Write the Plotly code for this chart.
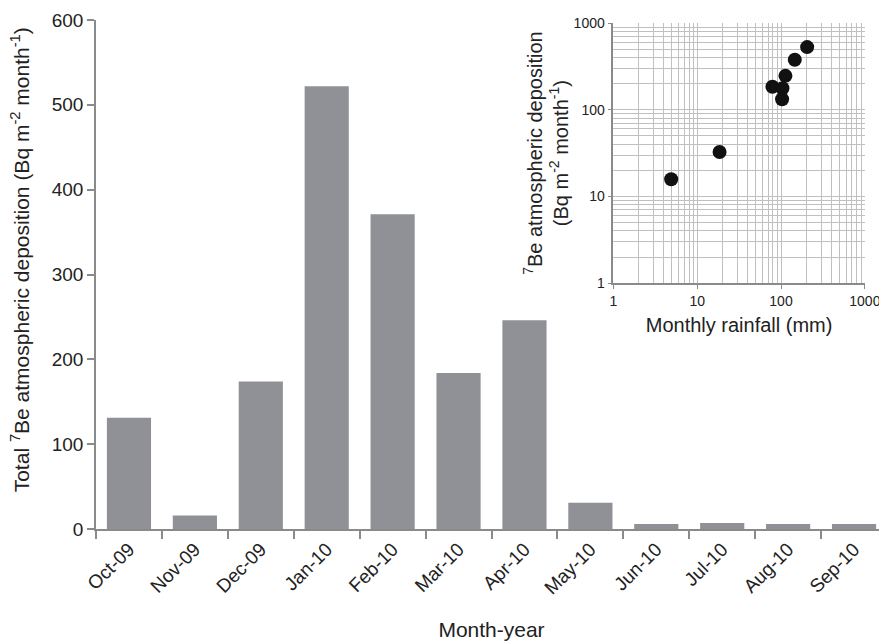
import plotly.graph_objects as go

months = ["Oct-09", "Nov-09", "Dec-09", "Jan-10", "Feb-10", "Mar-10",
          "Apr-10", "May-10", "Jun-10", "Jul-10", "Aug-10", "Sep-10"]
deposition = [131, 16, 174, 522, 371, 184, 246, 31, 6, 7, 6, 6]

rainfall_mm = [4.9, 18.5, 79, 104, 103, 113, 146, 205]
rain_deposition = [15.8, 32.5, 184, 177, 132, 246, 377, 528]

y_ticks = [0, 100, 200, 300, 400, 500, 600]
log_ticks = [1, 10, 100, 1000]

FONT = "Liberation Sans, Arial, sans-serif"
TXT = "#222222"
AX = "#8a8a8a"
GRID = "#c0c0c0"

minor_vals = [m * d for d in (1, 10, 100) for m in range(2, 10)]

fig = go.Figure()
fig.add_trace(go.Bar(x=months, y=deposition, marker=dict(color="#909196", line=dict(width=0)),
                     width=0.67, xaxis="x", yaxis="y", showlegend=False))
fig.add_trace(go.Scatter(x=rainfall_mm, y=rain_deposition, mode="markers",
                         marker=dict(color="#111111", size=14),
                         xaxis="x2", yaxis="y2", showlegend=False))

fig.update_layout(
    width=887, height=642,
    margin=dict(l=88, r=8, t=12, b=121),
    plot_bgcolor="white", paper_bgcolor="white",
    font=dict(family=FONT, color=TXT),
    xaxis=dict(
        domain=[0, 1], range=[-0.5, 11.5], type="category", automargin=False,
        showline=True, linecolor=AX, linewidth=1.5,
        ticks="outside", tickson="boundaries", ticklen=8, tickcolor=AX, tickwidth=1.5,
        tickangle=-45, tickfont=dict(size=19, color=TXT),
        title=dict(text="Month-year", font=dict(size=21, color=TXT), standoff=25),
        showgrid=False, zeroline=False,
    ),
    yaxis=dict(
        domain=[0, 1], range=[0, 600], tickvals=y_ticks, automargin=False,
        showline=True, linecolor=AX, linewidth=1.5,
        ticks="outside", ticklen=7, tickcolor=AX, tickwidth=1.5,
        tickfont=dict(size=19, color=TXT),
        showgrid=False, zeroline=False,
    ),
    xaxis2=dict(
        domain=[0.654, 0.972], anchor="y2", type="log", range=[0, 3], automargin=False,
        tickvals=log_ticks, ticktext=[str(v) for v in log_ticks],
        showline=True, linecolor=AX, linewidth=1.5,
        ticks="outside", ticklen=4, tickcolor=AX,
        tickfont=dict(size=14, color=TXT),
        showgrid=True, gridcolor=GRID, gridwidth=1,
        minor=dict(tickvals=minor_vals, showgrid=True, gridcolor=GRID, gridwidth=1, ticks=""),
        title=dict(text="Monthly rainfall (mm)", font=dict(size=20, color=TXT), standoff=10),
        zeroline=False,
    ),
    yaxis2=dict(
        domain=[0.483, 0.994], anchor="x2", type="log", range=[0, 3], automargin=False,
        tickvals=log_ticks, ticktext=[str(v) for v in log_ticks],
        showline=True, linecolor=AX, linewidth=1.5,
        ticks="outside", ticklen=4, tickcolor=AX,
        tickfont=dict(size=14, color=TXT),
        showgrid=True, gridcolor=GRID, gridwidth=1,
        minor=dict(tickvals=minor_vals, showgrid=True, gridcolor=GRID, gridwidth=1, ticks=""),
        title=dict(text="<sup>7</sup>Be atmospheric deposition<br>(Bq m<sup>-2</sup> month<sup>-1</sup>)",
                   font=dict(size=20, color=TXT), standoff=0),
        zeroline=False,
    ),
    annotations=[dict(
        text="Total <sup>7</sup>Be atmospheric deposition (Bq m<sup>-2</sup> month<sup>-1</sup>)",
        textangle=-90, xref="paper", yref="paper", x=-0.096, y=0.528,
        xanchor="center", yanchor="middle", showarrow=False,
        font=dict(size=21, color=TXT),
    )],
)

fig.write_html("out.html")
